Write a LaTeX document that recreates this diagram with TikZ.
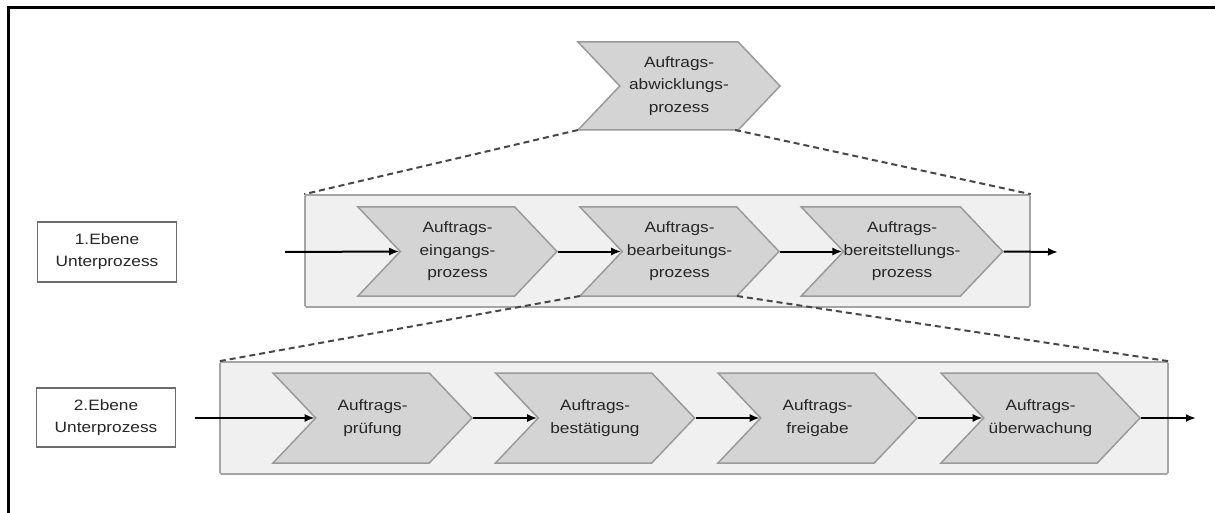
\documentclass[tikz,border=0pt]{standalone}
\usepackage{fontspec}
\setmainfont{Liberation Sans}[FakeStretch=1.15]
\usetikzlibrary{shapes.symbols,arrows.meta,calc}
\definecolor{chevfill}{HTML}{D4D4D4}
\definecolor{chevline}{HTML}{9A9A9A}
\definecolor{boxfill}{HTML}{F0F0F0}
\definecolor{boxline}{HTML}{A5A5A5}
\definecolor{txt}{HTML}{262626}
\begin{document}
\begin{tikzpicture}[x=1pt,y=-1pt,
  chev/.style={shape=signal, signal from=west, signal to=east,
    signal pointer angle=93, draw=chevline, fill=chevfill, line width=1.5pt,
    minimum width=199pt, minimum height=89pt, inner sep=0pt,
    align=center, text=txt, font=\fontsize{15}{22.5}\selectfont},
  container/.style={draw=boxline, fill=boxfill, line width=1.6pt,
    rounded corners=1.5pt, minimum height=112pt, inner sep=0pt},
  levelbox/.style={draw=gray!85!black, fill=white, line width=1.2pt,
    minimum width=139pt, minimum height=60pt, inner sep=0pt,
    align=center, text=txt, font=\fontsize{15}{22}\selectfont},
  flow/.style={line width=2pt, -{Latex[length=10pt,width=8pt]}},
  zoomline/.style={draw=black!72, line width=2pt, dash pattern=on 6pt off 4pt}]
\useasboundingbox (0,0) rectangle (1215,513);

% outer frame (top and left edges)
\draw[line width=3pt] (8,513) -- (8,8) -- (1215,8);

% containers of the two sub-process levels
\node[container, minimum width=725pt] (lvlA) at (667.5,251) {};
\node[container, minimum width=948pt] (lvlB) at (694,418) {};

% main process
\node[chev, minimum width=202pt, minimum height=88pt] (main) at (679,86)
  {Auftrags-\\abwicklungs-\\prozess};

% level 1 sub-processes
\node[chev] (a1) at (457.5,251.5) {Auftrags-\\eingangs-\\prozess};
\node[chev] (a2) at (679.5,251.5) {Auftrags-\\bearbeitungs-\\prozess};
\node[chev] (a3) at (902,251.5) {Auftrags-\\bereitstellungs-\\prozess};

% level 2 sub-processes
\node[chev, minimum height=90pt] (b1) at (372.5,418) {Auftrags-\\prüfung};
\node[chev, minimum height=90pt] (b2) at (595,418) {Auftrags-\\bestätigung};
\node[chev, minimum height=90pt] (b3) at (817.5,418) {Auftrags-\\freigabe};
\node[chev, minimum height=90pt] (b4) at (1040.5,418) {Auftrags-\\überwachung};

% level labels
\node[levelbox] (labA) at (107,252) {1.Ebene\\Unterprozess};
\node[levelbox, minimum height=59pt] (labB) at (106,417.5) {2.Ebene\\Unterprozess};

% zoom lines from a process to its refinement
\coordinate (mainSW) at ($(main.center)+(-101,44)$);
\coordinate (mainSE) at ($(main.center)+(56,44)$);
\coordinate (a2SW) at ($(a2.center)+(-99.5,44.5)$);
\coordinate (a2SE) at ($(a2.center)+(57.5,44.5)$);
\draw[zoomline] (mainSW) -- (lvlA.north west);
\draw[zoomline] (mainSE) -- (lvlA.north east);
\draw[zoomline] (a2SW) -- (lvlB.north west);
\draw[zoomline] (a2SE) -- (lvlB.north east);

% level 1 flow
\coordinate (inA) at (285,252);
\coordinate (outA) at (1058,252);
\draw[flow] (inA) -- (a1.west);
\draw[flow] (a1.east) -- (a2.west);
\draw[flow] (a2.east) -- (a3.west);
\draw[flow] (a3.east) -- (outA);

% level 2 flow
\coordinate (inB) at (195,418);
\coordinate (outB) at (1196,418);
\draw[flow] (inB) -- (b1.west);
\draw[flow] (b1.east) -- (b2.west);
\draw[flow] (b2.east) -- (b3.west);
\draw[flow] (b3.east) -- (b4.west);
\draw[flow] (b4.east) -- (outB);
\end{tikzpicture}
\end{document}
